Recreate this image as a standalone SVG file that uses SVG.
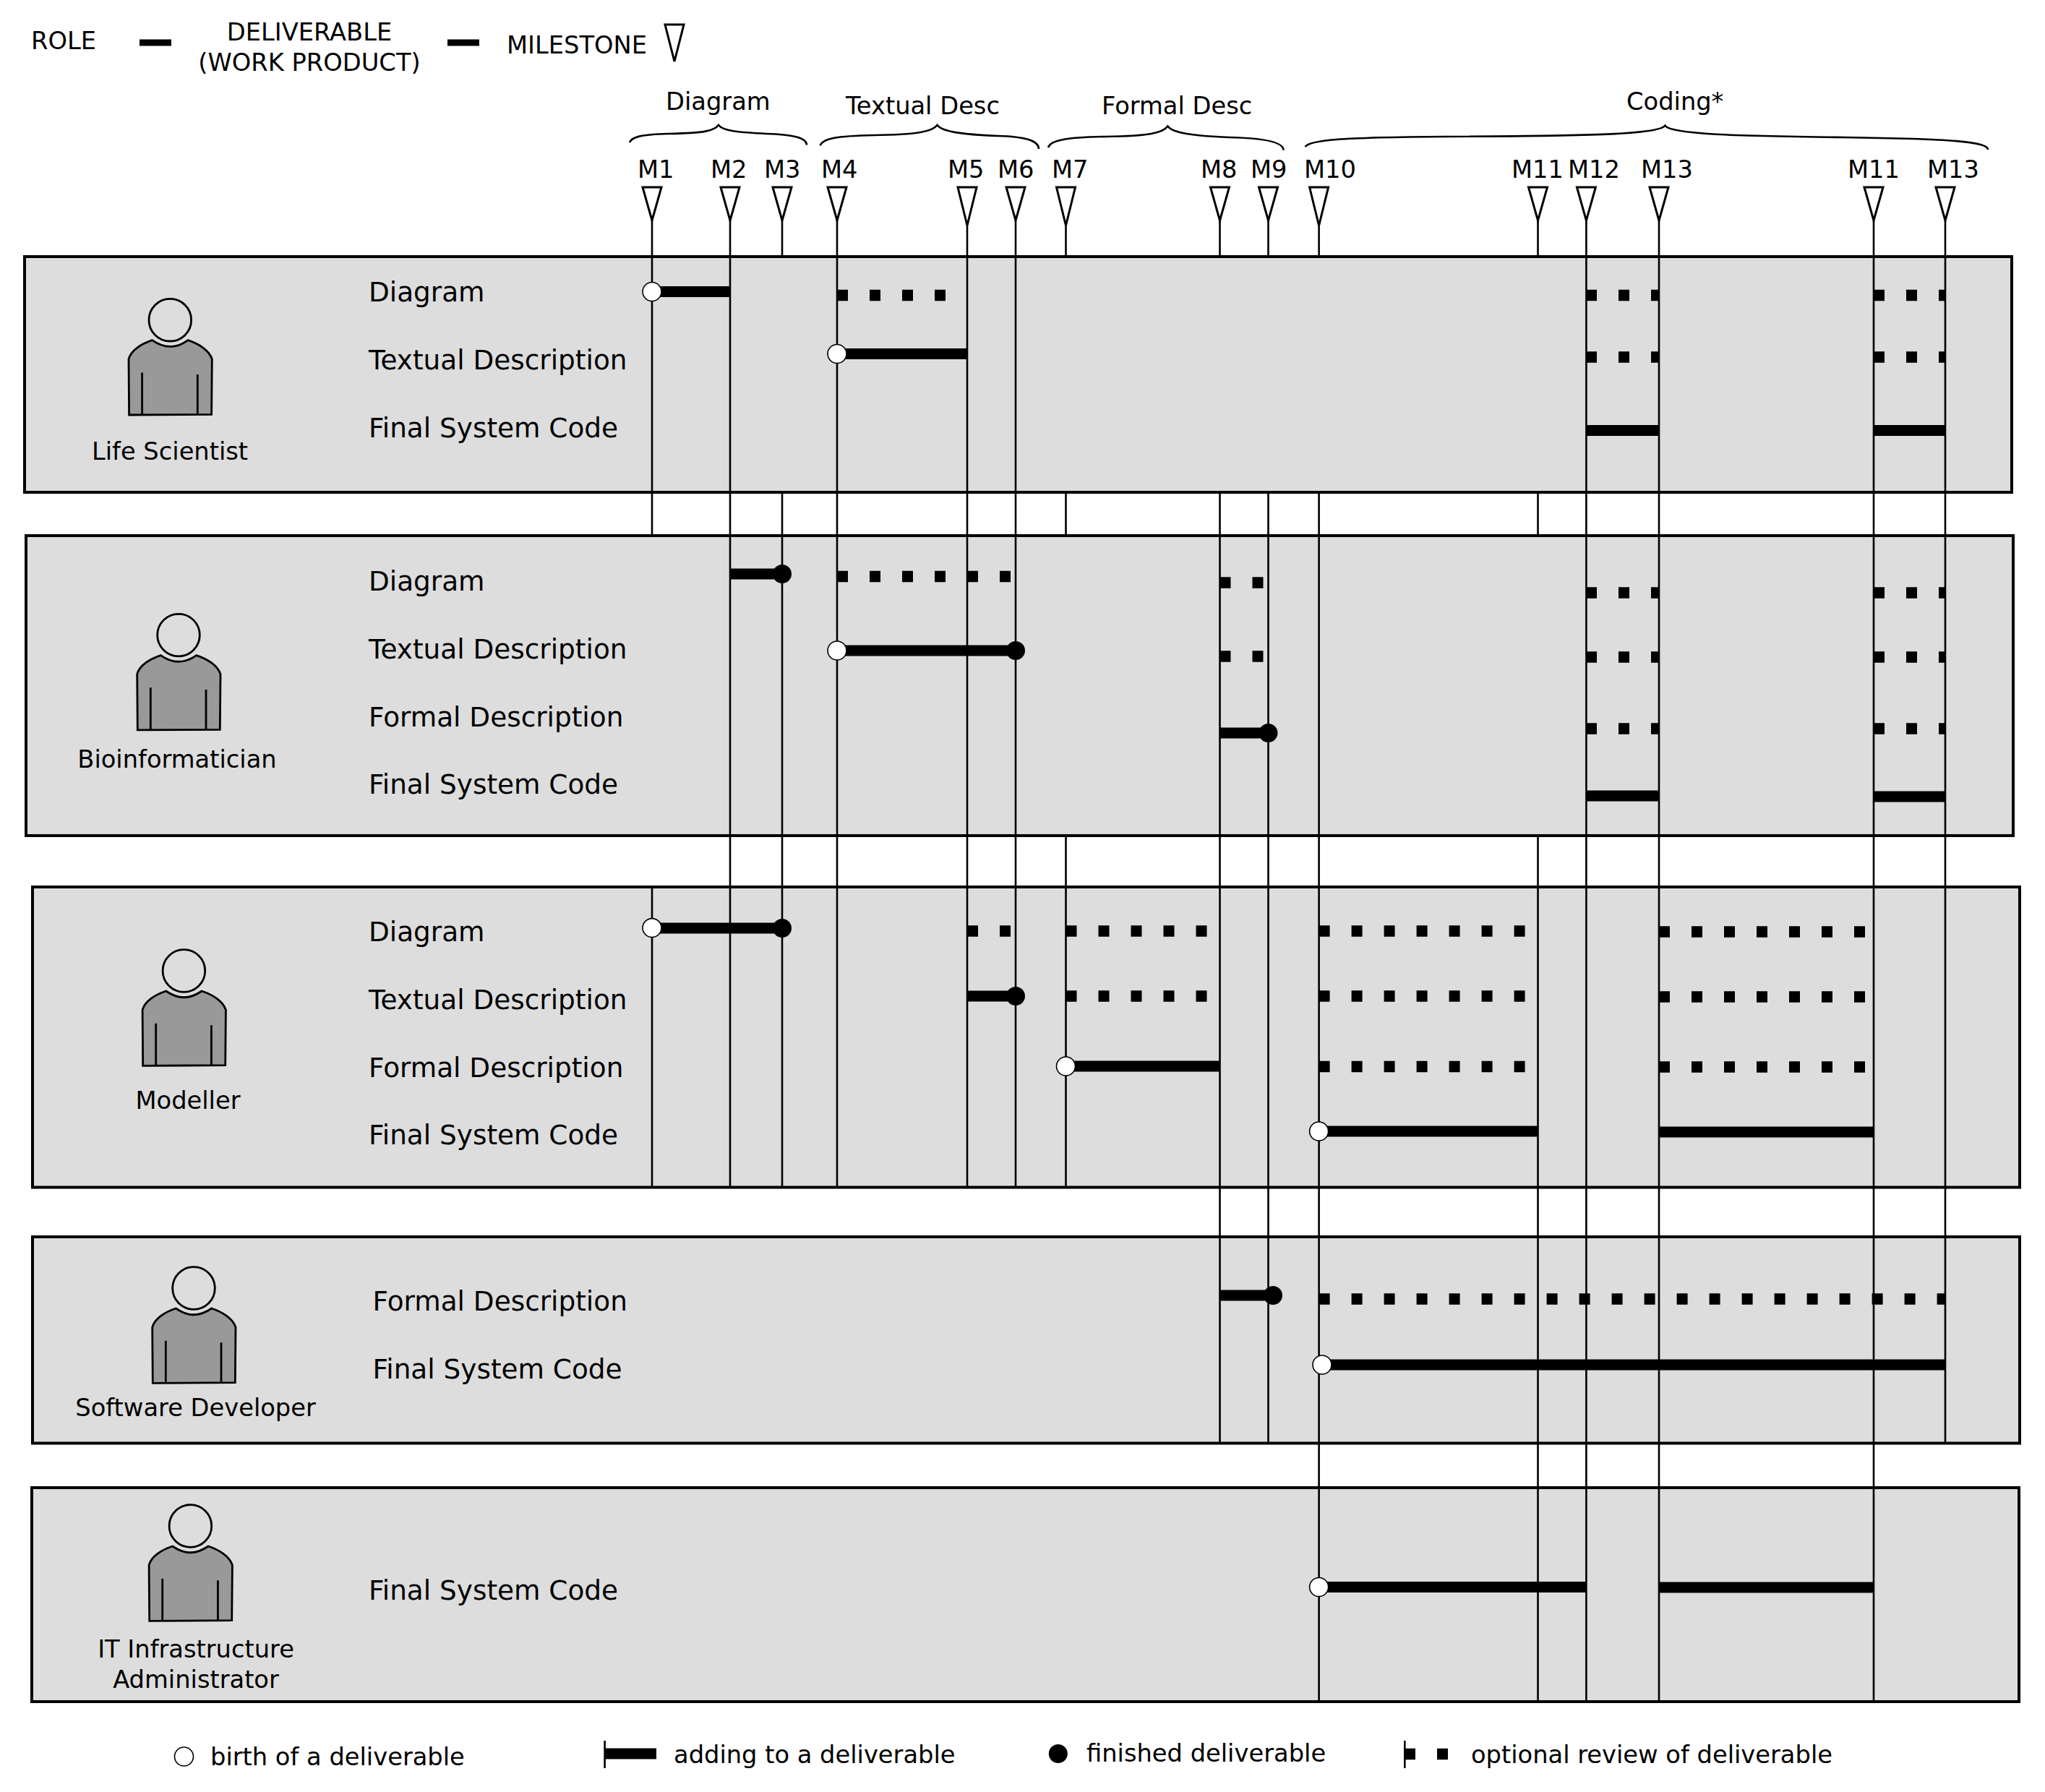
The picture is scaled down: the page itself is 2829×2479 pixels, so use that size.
<svg xmlns="http://www.w3.org/2000/svg" width="2829" height="2479" viewBox="0 0 2829 2479">
<style>
text{font-family:"DejaVu Sans",sans-serif;font-size:33.7px;fill:#000}
.d{font-size:37.4px}
.m{text-anchor:middle}
.box{fill:#ddd;stroke:#000;stroke-width:4}
.v{stroke:#000;stroke-width:2.6;fill:none}
.t{stroke:#000;stroke-width:15;fill:none}
.o{stroke:#000;stroke-width:15.5;fill:none;stroke-dasharray:15 30}
.b{fill:#fff;stroke:#000;stroke-width:1.6}
.f{fill:#000}
.tri{fill:#fff;stroke:#000;stroke-width:3}
.br{fill:none;stroke:#000;stroke-width:2.6}
</style>
<defs>
<g id="person">
<circle cx="0" cy="0" r="29.3" fill="none" stroke="#000" stroke-width="2.8"/>
<path d="M-24.7 28Q0 45.4 24.7 28C40 33 54 42 58 54L57.3 130.7L-56.7 131.3L-57.3 54C-54 42 -40 33 -24.7 28Z" fill="#999" stroke="#000" stroke-width="2.8"/>
<path d="M-38.7 72.7V131M38 75.3V130.7" fill="none" stroke="#000" stroke-width="2.8"/>
</g>
</defs>
<rect width="2829" height="2479" fill="#fff"/>
<g id="legend-top">
<text x="43" y="68">ROLE</text>
<path class="t" style="stroke-width:9" d="M193 59H237M619 59H663"/>
<text class="m" x="428" y="56">DELIVERABLE</text>
<text class="m" x="428" y="98">(WORK PRODUCT)</text>
<text x="701" y="73.6">MILESTONE</text>
<path class="tri" d="M920 34H946L933 85Z"/>
</g>
<g id="role-life-scientist">
<rect class="box" x="34" y="355" width="2749" height="326"/>
<use href="#person" x="235.3" y="442.7"/>
<text class="m" x="235" y="636">Life Scientist</text>
<text class="d" x="510" y="417">Diagram</text>
<text class="d" x="510" y="511">Textual Description</text>
<text class="d" x="510" y="605">Final System Code</text>
</g>
<g id="role-bioinformatician">
<rect class="box" x="36" y="741" width="2749" height="415"/>
<use href="#person" x="247" y="878.6"/>
<text class="m" x="245" y="1062">Bioinformatician</text>
<text class="d" x="510" y="816.5">Diagram</text>
<text class="d" x="510" y="910.5">Textual Description</text>
<text class="d" x="510" y="1004.5">Formal Description</text>
<text class="d" x="510" y="1098">Final System Code</text>
</g>
<g id="role-modeller">
<rect class="box" x="45" y="1227" width="2749" height="415.5"/>
<use href="#person" x="254.4" y="1343"/>
<text class="m" x="260" y="1534">Modeller</text>
<text class="d" x="510" y="1302">Diagram</text>
<text class="d" x="510" y="1396">Textual Description</text>
<text class="d" x="510" y="1490">Formal Description</text>
<text class="d" x="510" y="1583">Final System Code</text>
</g>
<g id="role-software-developer">
<rect class="box" x="45" y="1711" width="2749" height="285.5"/>
<use href="#person" x="268" y="1782"/>
<text class="m" x="270.6" y="1959">Software Developer</text>
<text class="d" x="515.5" y="1813">Formal Description</text>
<text class="d" x="515.5" y="1907">Final System Code</text>
</g>
<g id="role-it-admin">
<rect class="box" x="44" y="2058" width="2749" height="296"/>
<use href="#person" x="263.4" y="2111"/>
<text class="m" x="271" y="2293">IT Infrastructure</text>
<text class="m" x="271" y="2335">Administrator</text>
<text class="d" x="510" y="2213">Final System Code</text>
</g>
<g id="phases">
<path class="br" d="M871 197C874 189 888 186 925 185C975 184 988 181 994 173C1000 181 1020 183 1060 185C1095 186 1116 190 1116 200.5"/>
<text x="921" y="152">Diagram</text>
<path class="br" d="M1134.6 201.4C1138 192 1155 188 1210 187C1270 186 1290 182 1296.6 173C1303 182 1330 186 1380 188C1420 189 1437 195 1437 206"/>
<text x="1170" y="158">Textual Desc</text>
<path class="br" d="M1450 204C1453 195 1470 190 1530 189C1590 188 1609 184 1615.4 174.6C1622 184 1650 188 1700 190C1750 191 1775.5 197 1775.5 207.7"/>
<text x="1524" y="158">Formal Desc</text>
<path class="br" d="M1805.5 203C1812 194 1850 190 2000 189C2200 188 2295 186 2303.4 173.8C2312 186 2400 188 2550 190C2700 192 2750 196 2750 207"/>
<text x="2250" y="151.5">Coding*</text>
</g>
<g id="milestones">
<g id="m1"><text x="882" y="246">M1</text><path class="tri" d="M889 259H915L902 305Z"/></g>
<g id="m2"><text x="983" y="246">M2</text><path class="tri" d="M997 259H1023L1010 305Z"/></g>
<g id="m3"><text x="1057" y="246">M3</text><path class="tri" d="M1069 259H1095L1082 305Z"/></g>
<g id="m4"><text x="1136" y="246">M4</text><path class="tri" d="M1145 259H1171L1158 305Z"/></g>
<g id="m5"><text x="1311" y="246">M5</text><path class="tri" d="M1325 259H1351L1338 312Z"/></g>
<g id="m6"><text x="1380" y="246">M6</text><path class="tri" d="M1392 259H1418L1405 305Z"/></g>
<g id="m7"><text x="1455" y="246">M7</text><path class="tri" d="M1461.5 259H1487.5L1474.5 312Z"/></g>
<g id="m8"><text x="1661" y="246">M8</text><path class="tri" d="M1674.5 259H1700.5L1687.5 305Z"/></g>
<g id="m9"><text x="1730" y="246">M9</text><path class="tri" d="M1741.5 259H1767.5L1754.5 305Z"/></g>
<g id="m10"><text x="1804" y="246">M10</text><path class="tri" d="M1811.6 259H1837.6L1824.6 312Z"/></g>
<g id="m11"><text x="2091" y="246">M11</text><path class="tri" d="M2114.5 259H2140.5L2127.5 305Z"/></g>
<g id="m12"><text x="2169" y="246">M12</text><path class="tri" d="M2181.4 259H2207.4L2194.4 305Z"/></g>
<g id="m13"><text x="2270" y="246">M13</text><path class="tri" d="M2282 259H2308L2295 305Z"/></g>
<g id="m11b"><text x="2556" y="246">M11</text><path class="tri" d="M2579 259H2605L2592 305Z"/></g>
<g id="m13b"><text x="2666" y="246">M13</text><path class="tri" d="M2678 259H2704L2691 305Z"/></g>
</g>
<g id="connectors">
<path class="v" d="M902 305V741M902 1227V1642M1010 305V1642M1082 305V355M1082 681V1642M1158 305V1642M1338 312V1642M1405 305V1642M1474.5 312V355M1474.5 681V741M1474.5 1156V1642M1687.5 305V355M1687.5 681V1996M1754.5 305V355M1754.5 681V1996M1824.6 312V355M1824.6 681V2354M2127.5 305V355M2127.5 681V741M2127.5 1156V2354M2194.4 305V2354M2295 305V2354M2592 305V2354M2691 305V1996"/>
<path class="t" d="M902 403.5H1010M1158 489.5H1338M2194 595.5H2295M2592 595.5H2691"/>
<path class="o" d="M1158 408.6H1308M2194 408.6H2295M2194 494H2295M2592 408.6H2691M2592 494H2691"/>
<path class="t" d="M1010 794H1082M1158 900H1405M1687.5 1014H1754.5M2194 1101H2295M2592 1102H2691"/>
<path class="o" d="M1158 797.5H1405M1687.5 806H1755M1687.5 908H1755M2194 820H2295M2194 909H2295M2194 1008H2295M2592 820H2691M2592 909H2691M2592 1008H2691"/>
<path class="t" d="M902 1284H1082M1338 1378H1405M1474.5 1475H1687.5M1824.6 1565H2127.5M2295 1566H2592"/>
<path class="o" d="M1338 1288H1405M1474.5 1288H1670M1824.6 1288H2110M2295 1289H2582M1474.5 1378H1670M1824.6 1378H2110M2295 1379H2582M1824.6 1475.5H2110M2295 1476H2582"/>
<path class="t" d="M1687.5 1792H1761M1829 1888H2691M1824.6 2195.5H2194.4M2295 2196H2592"/>
<path class="o" d="M1824.6 1797H2691"/>
<circle class="b" cx="902" cy="403.5" r="13"/><circle class="b" cx="1158" cy="489.5" r="13"/>
<circle class="f" cx="1082" cy="794" r="13"/><circle class="b" cx="1158" cy="900" r="13"/><circle class="f" cx="1405" cy="900" r="13"/><circle class="f" cx="1754.5" cy="1014" r="13"/>
<circle class="b" cx="902" cy="1283.6" r="13"/><circle class="f" cx="1082" cy="1284" r="13"/><circle class="f" cx="1405" cy="1378" r="13"/><circle class="b" cx="1474.5" cy="1475" r="13"/><circle class="b" cx="1824.6" cy="1565" r="13"/>
<circle class="f" cx="1761" cy="1792" r="13"/><circle class="b" cx="1829" cy="1888" r="13"/>
<circle class="b" cx="1824.6" cy="2195.5" r="13"/>
</g>
<g id="legend-bottom">
<circle class="b" cx="254.5" cy="2430" r="13"/>
<text x="291" y="2441.7">birth of a deliverable</text>
<path class="v" d="M836.6 2408V2446"/>
<path class="t" d="M837 2426H908"/>
<text x="932" y="2439">adding to a deliverable</text>
<circle class="f" cx="1463.8" cy="2426" r="13"/>
<text x="1503" y="2436.7">finished deliverable</text>
<path class="v" d="M1943.3 2408V2446"/>
<path class="o" d="M1943 2426.5H2003"/>
<text x="2035" y="2439">optional review of deliverable</text>
</g>
</svg>
